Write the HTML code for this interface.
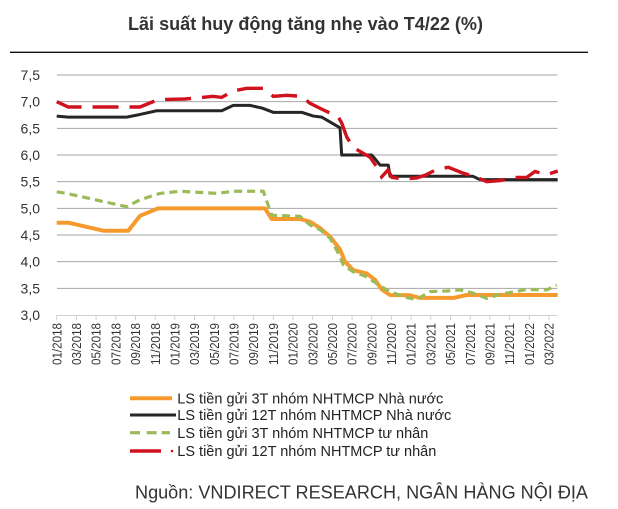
<!DOCTYPE html>
<html>
<head>
<meta charset="utf-8">
<style>
html,body{margin:0;padding:0;background:#fff;}
svg{display:block;}
text{font-family:"Liberation Sans",Arial,sans-serif;}
</style>
</head>
<body>
<svg width="618" height="509" viewBox="0 0 618 509" xmlns="http://www.w3.org/2000/svg">
<rect width="618" height="509" fill="#fff"/>
<!-- Title -->
<text x="128" y="30" font-size="18" font-weight="bold" fill="#333" textLength="355" lengthAdjust="spacingAndGlyphs">Lãi suất huy động tăng nhẹ vào T4/22 (%)</text>
<line x1="10" y1="52.3" x2="588" y2="52.3" stroke="#111" stroke-width="1.4"/>

<!-- gridlines -->
<g stroke="#a6a6a6" stroke-width="1">
<line x1="57" y1="75" x2="557.5" y2="75"/>
<line x1="57" y1="101.67" x2="557.5" y2="101.67"/>
<line x1="57" y1="128.33" x2="557.5" y2="128.33"/>
<line x1="57" y1="155" x2="557.5" y2="155"/>
<line x1="57" y1="181.67" x2="557.5" y2="181.67"/>
<line x1="57" y1="208.33" x2="557.5" y2="208.33"/>
<line x1="57" y1="235" x2="557.5" y2="235"/>
<line x1="57" y1="261.67" x2="557.5" y2="261.67"/>
<line x1="57" y1="288.33" x2="557.5" y2="288.33"/>
</g>
<line x1="56.7" y1="315.5" x2="557.5" y2="315.5" stroke="#d0d0d0" stroke-width="1"/>
<g stroke="#d0d0d0" stroke-width="1">
<line x1="56.7" y1="315" x2="56.7" y2="320"/><line x1="76.4" y1="315" x2="76.4" y2="320"/><line x1="96.1" y1="315" x2="96.1" y2="320"/><line x1="115.8" y1="315" x2="115.8" y2="320"/><line x1="135.5" y1="315" x2="135.5" y2="320"/><line x1="155.2" y1="315" x2="155.2" y2="320"/><line x1="174.8" y1="315" x2="174.8" y2="320"/><line x1="194.5" y1="315" x2="194.5" y2="320"/><line x1="214.2" y1="315" x2="214.2" y2="320"/><line x1="233.9" y1="315" x2="233.9" y2="320"/><line x1="253.6" y1="315" x2="253.6" y2="320"/><line x1="273.3" y1="315" x2="273.3" y2="320"/><line x1="293" y1="315" x2="293" y2="320"/><line x1="312.7" y1="315" x2="312.7" y2="320"/><line x1="332.4" y1="315" x2="332.4" y2="320"/><line x1="352.1" y1="315" x2="352.1" y2="320"/><line x1="371.7" y1="315" x2="371.7" y2="320"/><line x1="391.4" y1="315" x2="391.4" y2="320"/><line x1="411.1" y1="315" x2="411.1" y2="320"/><line x1="430.8" y1="315" x2="430.8" y2="320"/><line x1="450.5" y1="315" x2="450.5" y2="320"/><line x1="470.2" y1="315" x2="470.2" y2="320"/><line x1="489.9" y1="315" x2="489.9" y2="320"/><line x1="509.6" y1="315" x2="509.6" y2="320"/><line x1="529.3" y1="315" x2="529.3" y2="320"/><line x1="549" y1="315" x2="549" y2="320"/>
</g>

<!-- y labels -->
<g font-size="14" fill="#333" text-anchor="end">
<text x="40" y="80">7,5</text>
<text x="40" y="106.7">7,0</text>
<text x="40" y="133.3">6,5</text>
<text x="40" y="160">6,0</text>
<text x="40" y="186.7">5,5</text>
<text x="40" y="213.3">5,0</text>
<text x="40" y="240">4,5</text>
<text x="40" y="266.7">4,0</text>
<text x="40" y="293.3">3,5</text>
<text x="40" y="320">3,0</text>
</g>

<!-- x labels -->
<g font-size="12.5" fill="#333" text-anchor="end">
<text transform="translate(61.3,323) rotate(-90)" textLength="42" lengthAdjust="spacingAndGlyphs">01/2018</text>
<text transform="translate(81,323) rotate(-90)" textLength="42" lengthAdjust="spacingAndGlyphs">03/2018</text>
<text transform="translate(100.7,323) rotate(-90)" textLength="42" lengthAdjust="spacingAndGlyphs">05/2018</text>
<text transform="translate(120.4,323) rotate(-90)" textLength="42" lengthAdjust="spacingAndGlyphs">07/2018</text>
<text transform="translate(140.1,323) rotate(-90)" textLength="42" lengthAdjust="spacingAndGlyphs">09/2018</text>
<text transform="translate(159.8,323) rotate(-90)" textLength="42" lengthAdjust="spacingAndGlyphs">11/2018</text>
<text transform="translate(179.4,323) rotate(-90)" textLength="42" lengthAdjust="spacingAndGlyphs">01/2019</text>
<text transform="translate(199.1,323) rotate(-90)" textLength="42" lengthAdjust="spacingAndGlyphs">03/2019</text>
<text transform="translate(218.8,323) rotate(-90)" textLength="42" lengthAdjust="spacingAndGlyphs">05/2019</text>
<text transform="translate(238.5,323) rotate(-90)" textLength="42" lengthAdjust="spacingAndGlyphs">07/2019</text>
<text transform="translate(258.2,323) rotate(-90)" textLength="42" lengthAdjust="spacingAndGlyphs">09/2019</text>
<text transform="translate(277.9,323) rotate(-90)" textLength="42" lengthAdjust="spacingAndGlyphs">11/2019</text>
<text transform="translate(297.6,323) rotate(-90)" textLength="42" lengthAdjust="spacingAndGlyphs">01/2020</text>
<text transform="translate(317.3,323) rotate(-90)" textLength="42" lengthAdjust="spacingAndGlyphs">03/2020</text>
<text transform="translate(337,323) rotate(-90)" textLength="42" lengthAdjust="spacingAndGlyphs">05/2020</text>
<text transform="translate(356.7,323) rotate(-90)" textLength="42" lengthAdjust="spacingAndGlyphs">07/2020</text>
<text transform="translate(376.3,323) rotate(-90)" textLength="42" lengthAdjust="spacingAndGlyphs">09/2020</text>
<text transform="translate(396,323) rotate(-90)" textLength="42" lengthAdjust="spacingAndGlyphs">11/2020</text>
<text transform="translate(415.7,323) rotate(-90)" textLength="42" lengthAdjust="spacingAndGlyphs">01/2021</text>
<text transform="translate(435.4,323) rotate(-90)" textLength="42" lengthAdjust="spacingAndGlyphs">03/2021</text>
<text transform="translate(455.1,323) rotate(-90)" textLength="42" lengthAdjust="spacingAndGlyphs">05/2021</text>
<text transform="translate(474.8,323) rotate(-90)" textLength="42" lengthAdjust="spacingAndGlyphs">07/2021</text>
<text transform="translate(494.5,323) rotate(-90)" textLength="42" lengthAdjust="spacingAndGlyphs">09/2021</text>
<text transform="translate(514.2,323) rotate(-90)" textLength="42" lengthAdjust="spacingAndGlyphs">11/2021</text>
<text transform="translate(533.9,323) rotate(-90)" textLength="42" lengthAdjust="spacingAndGlyphs">01/2022</text>
<text transform="translate(553.6,323) rotate(-90)" textLength="42" lengthAdjust="spacingAndGlyphs">03/2022</text>
</g>

<!-- series -->
<polyline fill="none" stroke="#f79a2e" stroke-width="4" stroke-linejoin="round" points="56.7,222.73 68.3,222.73 103.3,230.73 128.3,230.73 140,215.8 158.3,208.33 265,208.33 271.7,219 300,219 310,221.67 320,228.07 330,236.6 340,249.4 345,261.67 353.3,270.2 366.7,273.4 375,279.8 381.7,289.4 390,295 410,295.27 420,297.93 453.3,297.93 466.7,295 557.7,295"/>
<polyline fill="none" stroke="#9bbb59" stroke-width="3.2" stroke-dasharray="8 5" points="56.7,191.8 66.7,193.4 110,203 126.7,206.73 140,199.8 160,193.4 180,191.27 216.7,193.4 233.3,191.27 263.3,191.27 271.7,215.27 300,216.33 310,224.87 320,229.67 330,238.2 338.3,253.13 343.3,264.87 353.3,271.8 365,276.07 376.7,283.53 386.7,289.93 403.3,296.87 416.7,299.53 430,291.53 446.7,291 460,289.93 473.3,293.13 486.7,298.47 500,294.2 513.3,292.07 526.7,289.4 546.7,289.93 556.7,285.13"/>
<polyline fill="none" stroke="#262626" stroke-width="3" stroke-linejoin="round" points="56.7,116.07 68.3,117.13 126.7,117.13 140,114.47 156.7,110.73 221.7,110.73 233.3,105.4 250,105.4 262,108.07 273.3,112.33 301.7,112.33 313.3,116.07 321.7,117.13 330,121.93 340,127.8 341.7,155 371.7,155 376,160 380,165.1 388.3,165.1 390,176.3 473,176.3 480,179.6 557.7,179.6"/>
<polyline fill="none" stroke="#d0121f" stroke-width="3.4" stroke-dasharray="26 11" points="56.7,101.67 68.3,107 140,107 158.3,99.53 185,99 213,96.33 221.7,97.4 233,91 246.7,88.33 263.3,88.33 273.3,96.33 286.7,95.27 301.7,96.33 310,103.27 321.7,109.13 338,116.6 341.7,123 346.7,136.87 353.3,147.53 363.3,153.4 370,157.13 376.7,166.73 381.7,176.87 388,169.93 392,177.4 403.3,179 416.7,177.93 425,175.27 436.7,169.4 448.3,167.27 461.7,172.6 476.7,177.4 486.7,181.67 500,180.6 513.3,177.4 526.7,177.4 535,171.53 546.7,174.73 557.7,171"/>

<!-- Legend -->
<line x1="130" y1="398.3" x2="172" y2="398.3" stroke="#f79a2e" stroke-width="4"/>
<line x1="130" y1="415" x2="176" y2="415" stroke="#262626" stroke-width="3"/>
<line x1="130" y1="432.7" x2="140" y2="432.7" stroke="#9bbb59" stroke-width="3.2"/>
<line x1="146.7" y1="432.7" x2="156.7" y2="432.7" stroke="#9bbb59" stroke-width="3.2"/>
<line x1="161.7" y1="432.7" x2="170" y2="432.7" stroke="#9bbb59" stroke-width="3.2"/>
<line x1="130" y1="451" x2="161" y2="451" stroke="#d0121f" stroke-width="3.4"/>
<circle cx="172" cy="451" r="1.3" fill="#d0121f"/>
<g font-size="14.5" fill="#222">
<text x="177.3" y="403.5" textLength="266" lengthAdjust="spacingAndGlyphs">LS tiền gửi 3T nhóm NHTMCP Nhà nước</text>
<text x="177.3" y="420.2" textLength="274" lengthAdjust="spacingAndGlyphs">LS tiền gửi 12T nhóm NHTMCP Nhà nước</text>
<text x="177.3" y="437.9" textLength="251" lengthAdjust="spacingAndGlyphs">LS tiền gửi 3T nhóm NHTMCP tư nhân</text>
<text x="177.3" y="456.2" textLength="259" lengthAdjust="spacingAndGlyphs">LS tiền gửi 12T nhóm NHTMCP tư nhân</text>
</g>

<!-- Source -->
<text x="135" y="498.3" font-size="18" fill="#333" textLength="453" lengthAdjust="spacingAndGlyphs">Nguồn: VNDIRECT RESEARCH, NGÂN HÀNG NỘI ĐỊA</text>
</svg>
</body>
</html>
